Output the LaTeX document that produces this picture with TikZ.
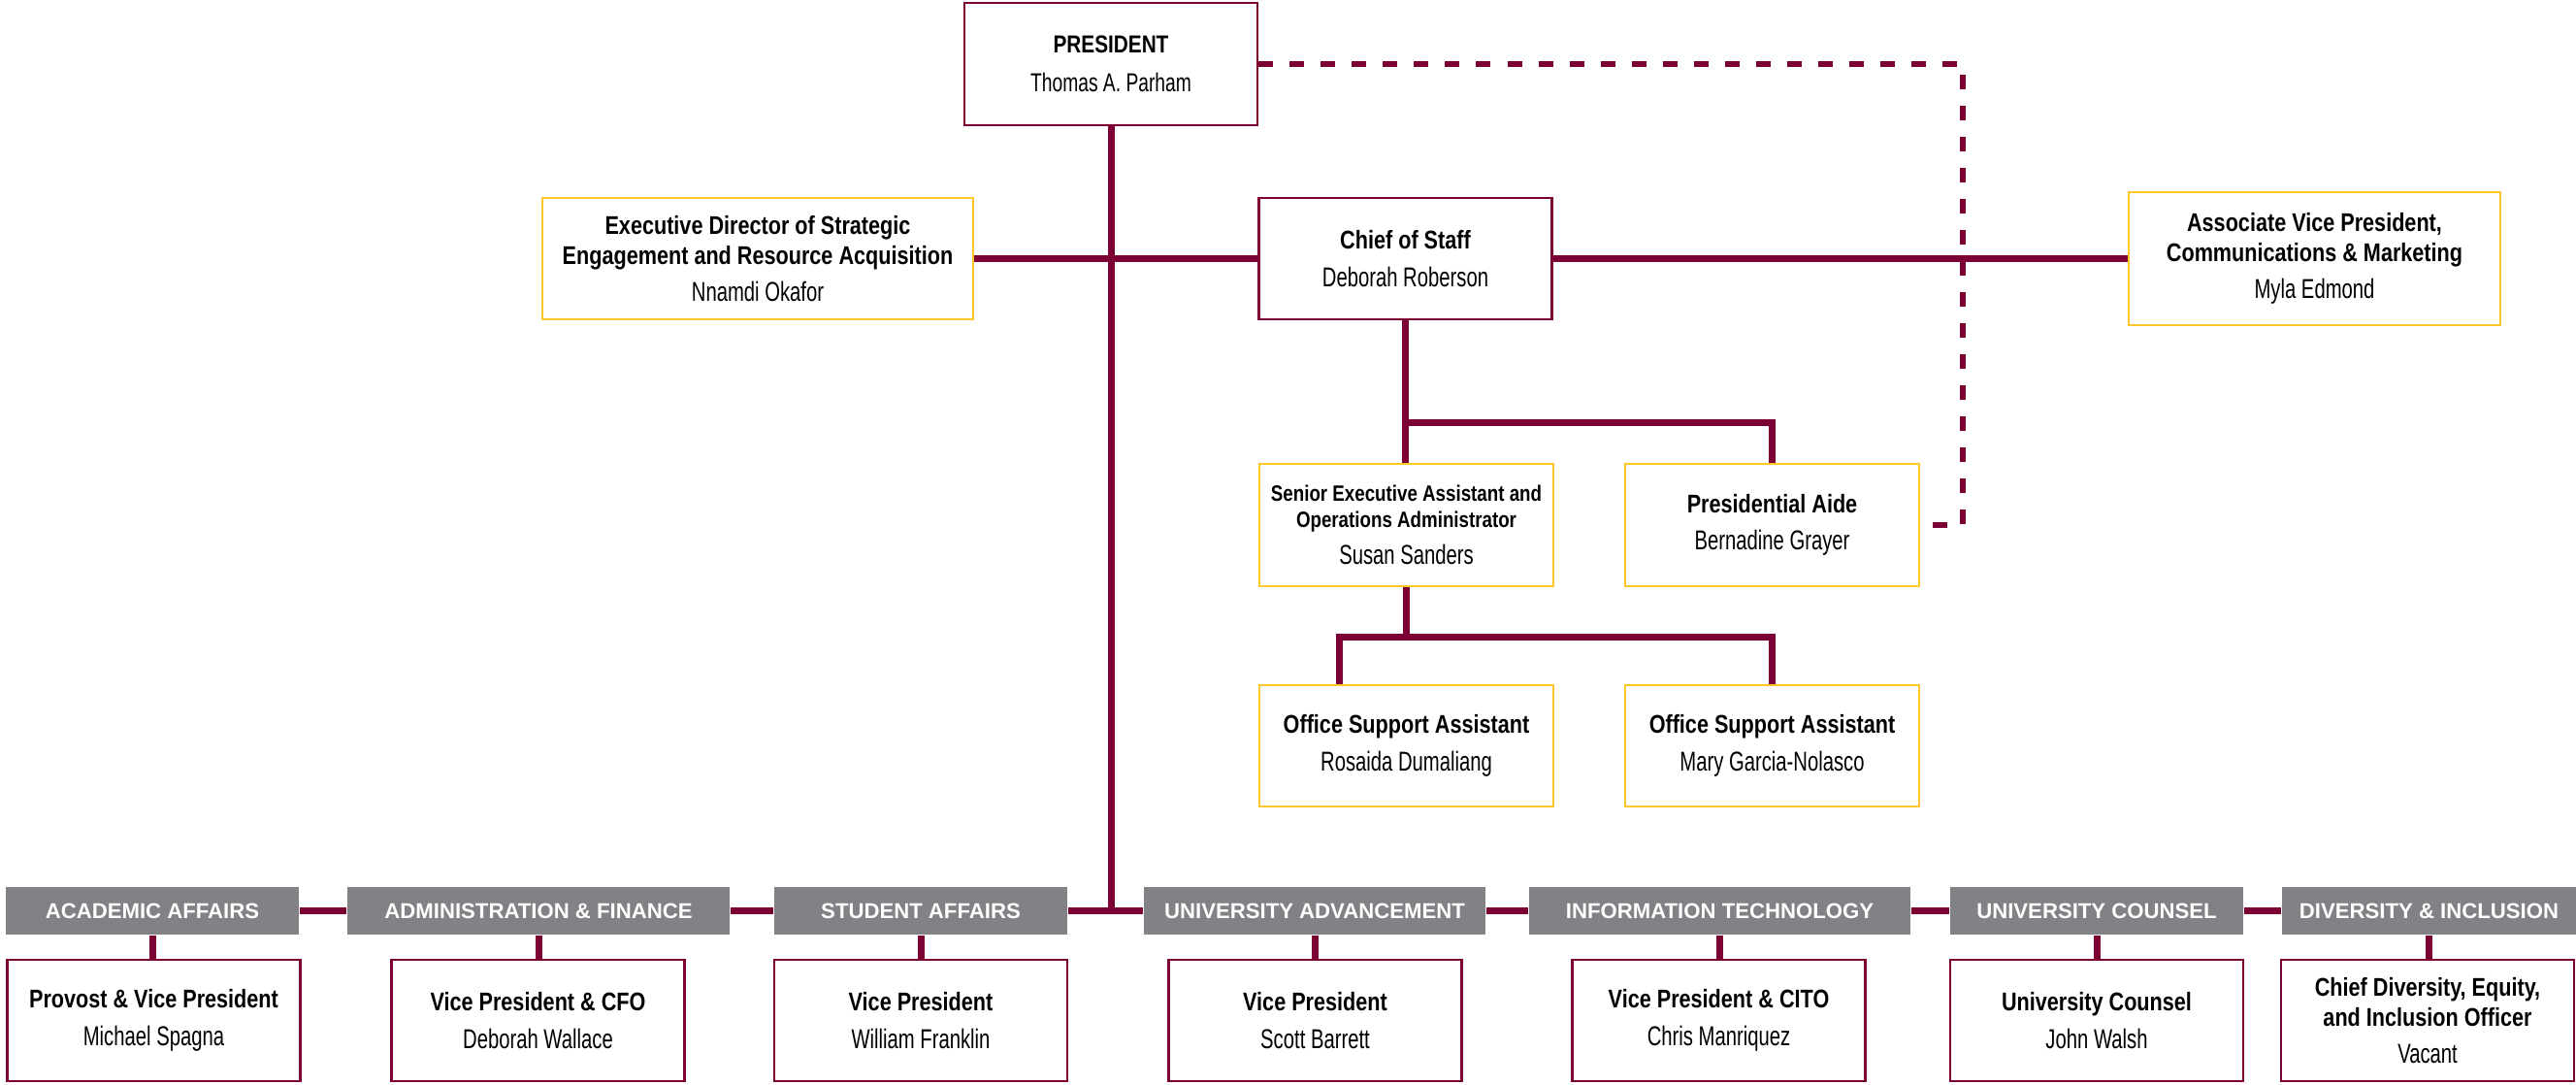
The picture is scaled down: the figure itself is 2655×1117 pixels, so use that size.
\documentclass[tikz,border=0pt]{standalone}
\usepackage{fontspec}
\setmainfont{Liberation Sans}
\newfontfamily\titlefont[FakeStretch=0.82]{Liberation Sans Bold}
\newfontfamily\namefont[FakeStretch=0.72]{Liberation Sans}
\newfontfamily\unitfont{Liberation Sans Bold}
\newcommand{\namestyle}{\namefont\fontsize{8}{9.6}\selectfont}
\definecolor{dhmaroon}{RGB}{124,0,52}
\definecolor{dhgold}{RGB}{255,199,44}
\definecolor{dhgray}{RGB}{128,130,133}
\tikzset{
  vpbox/.style={draw=dhmaroon, line width=0.025cm, fill=white, align=center, inner sep=0pt,
    minimum width=3.02cm, minimum height=1.26cm, font=\titlefont\fontsize{7.5}{8.8}\selectfont},
  staffbox/.style={vpbox, draw=dhgold, line width=0.02cm},
  unitbar/.style={fill=dhgray, text=white, inner sep=0pt, minimum height=0.49cm,
    font=\unitfont\fontsize{6.3}{7.5}\selectfont},
  orgline/.style={draw=dhmaroon, line width=0.07cm},
  dotline/.style={draw=dhmaroon, line width=0.06cm, dash pattern=on 0.15cm off 0.17cm}
}
\begin{document}
\begin{tikzpicture}[x=0.01cm,y=-0.01cm]
		\useasboundingbox (0,0) rectangle (2655,1117);
		% president and office
		\node[vpbox, font=\titlefont\fontsize{7.2}{8.8}\selectfont] (president) at (1145,66)
			{PRESIDENT\\[2.6pt]\namefont\fontsize{7.6}{8.8}\selectfont Thomas A. Parham};
		\node[staffbox, minimum width=4.44cm, minimum height=1.25cm] (execdir) at (781,266.5)
			{Executive Director of Strategic\\Engagement and Resource Acquisition\\[2.2pt]\namestyle Nnamdi Okafor};
		\node[vpbox, minimum height=1.25cm] (chief) at (1448.5,266.5) {Chief of Staff\\[2.2pt]\namestyle Deborah Roberson};
		\node[staffbox, minimum width=3.83cm, minimum height=1.37cm] (assocvp) at (2385.5,266.5)
			{Associate Vice President,\\Communications \& Marketing\\[2.2pt]\namestyle Myla Edmond};
		\node[staffbox, font=\titlefont\fontsize{6.5}{7.8}\selectfont] (senior) at (1449.5,541)
			{Senior Executive Assistant and\\Operations Administrator\\[3pt]\namestyle Susan Sanders};
		\node[staffbox] (aide) at (1826.5,541) {Presidential Aide\\[2.2pt]\namestyle Bernadine Grayer};
		\node[staffbox, minimum height=1.25cm] (officea) at (1449.5,768.5) {Office Support Assistant\\[2.2pt]\namestyle Rosaida Dumaliang};
		\node[staffbox, minimum height=1.25cm] (officeb) at (1826.5,768.5) {Office Support Assistant\\[2.2pt]\namestyle Mary Garcia-Nolasco};
		% divisions
		\foreach \n/\x/\w/\unit in {aa/157/3.02/ACADEMIC AFFAIRS, af/555/3.94/ADMINISTRATION \& FINANCE,
			sa/949/3.02/STUDENT AFFAIRS, ua/1355/3.52/UNIVERSITY ADVANCEMENT, it/1772.5/3.93/INFORMATION TECHNOLOGY,
			uc/2161/3.02/UNIVERSITY COUNSEL, di/2503.5/3.03/DIVERSITY \& INCLUSION} {
			\node[unitbar, minimum width=\w cm] (u\n) at (\x,938.5) {\unit};
		}
		\foreach \n/\x/\role/\holder in {aa/158.5/Provost \& Vice President/Michael Spagna, af/554.5/Vice President \& CFO/Deborah Wallace,
			sa/949/Vice President/William Franklin, ua/1355.5/Vice President/Scott Barrett, it/1771.5/Vice President \& CITO/Chris Manriquez,
			uc/2161/University Counsel/John Walsh, di/2502/{Chief Diversity, Equity,\\and Inclusion Officer}/Vacant} {
			\node[vpbox, minimum height=1.25cm] (b\n) at (\x,1051.5) {\role\\[2.2pt]\namestyle\holder};
		}
		% reporting lines
		\draw[orgline] (president.south) -- (president.south |- usa.east);
		\draw[orgline] (execdir.east) -- (chief.west);
		\draw[orgline] (chief.east) -- (assocvp.west);
		\draw[orgline] (chief.south) -- (chief.south |- senior.north);
		\draw[orgline] (aide.north) -- ++(0,-41) -| (chief.south);
		\draw[orgline] ([xshift=-0.69cm]officea.north) -- ++(0,-48) coordinate (assistbus) -| (officeb.north);
		\draw[orgline] (senior.south) -- (senior.south |- assistbus);
		\foreach \a/\b in {aa/af,af/sa,sa/ua,ua/it,it/uc,uc/di} {
			\draw[orgline] (u\a.east) -- (u\b.west);
		}
		\foreach \n in {aa,af,sa,ua,it,uc,di} {
			\draw[orgline] (u\n.south) -- (u\n.south |- b\n.north);
		}
		\coordinate (dashturn) at (2023,66);
		\draw[dotline] (president.east) -- (dashturn) |- (aide.east);
\end{tikzpicture}
\end{document}
